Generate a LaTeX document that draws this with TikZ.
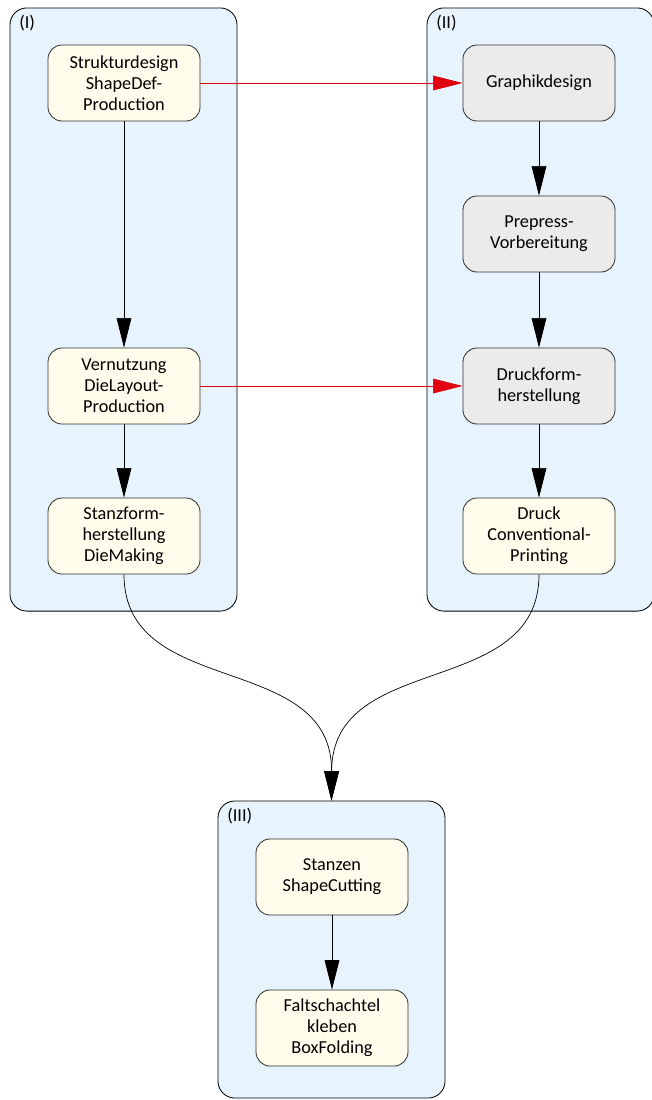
\documentclass[tikz,border=0pt]{standalone}
\usepackage{fontspec}
\setmainfont{Carlito}
\usetikzlibrary{arrows.meta}
\definecolor{lane}{HTML}{E8F4FD}
\definecolor{cream}{HTML}{FFFDEB}
\definecolor{stone}{HTML}{EBEBEB}
\definecolor{flowred}{HTML}{E0000F}
\tikzset{
  lanebox/.style={draw=black, line width=0.6pt, rectangle, rounded corners=12pt, fill=lane, minimum width=5.675cm},
  task/.style={draw=black!80, line width=0.6pt, rectangle, rounded corners=10pt, minimum width=3.8cm, minimum height=1.9cm, align=center, fill=cream, font=\fontsize{13}{15}\selectfont},
  prep/.style={task, fill=stone},
  tag/.style={anchor=north west, inner sep=0pt, font=\fontsize{13}{15}\selectfont},
  flow/.style={-{Triangle[length=21pt,width=10.5pt]}, line width=0.5pt, draw=black},
  handoff/.style={-{Triangle[length=21pt,width=10.5pt]}, line width=0.5pt, draw=flowred, color=flowred}
}

\begin{document}
\begin{tikzpicture}[x=0.025cm, y=-0.025cm]
  \useasboundingbox (0,0) rectangle (652,1100);
  % swim lanes
  \node[lanebox, minimum height=15.075cm] (laneA) at (123.5,309.5) {};
  \node[lanebox, minimum height=15.075cm] (laneB) at (540.5,309.5) {};
  \node[lanebox, minimum height=7.425cm] (laneC) at (331.5,949.5) {};
  \node[tag] (tagA) at (19,15) {(I)};
  \node[tag] (tagB) at (436,15) {(II)};
  \node[tag] (tagC) at (227,808) {(III)};

  % lane (I)
  \node[task] (shape) at (124,83) {Strukturdesign\\ShapeDef-\\Production};
  \node[task] (layout) at (124,386) {Vernutzung\\DieLayout-\\Production};
  \node[task] (die) at (124,536) {Stanzform-\\herstellung\\DieMaking};

  % lane (II)
  \node[prep] (graphic) at (539,83) {Graphikdesign};
  \node[prep] (prepress) at (539,234) {Prepress-\\Vorbereitung};
  \node[prep] (plate) at (539,386) {Druckform-\\herstellung};
  \node[task] (print) at (539,536) {Druck\\Conventional-\\Printing};

  % lane (III)
  \node[task] (cut) at (332,877) {Stanzen\\ShapeCutting};
  \node[task] (fold) at (332,1028) {Faltschachtel\\kleben\\BoxFolding};

  \draw[flow] (shape) -- (layout);
  \draw[flow] (layout) -- (die);
  \draw[flow] (graphic) -- (prepress);
  \draw[flow] (prepress) -- (plate);
  \draw[flow] (plate) -- (print);
  \draw[flow] (cut) -- (fold);

  \draw[handoff] (shape) -- (graphic);
  \draw[handoff] (layout) -- (plate);

  \draw[flow] (die.south) .. controls (124,700) and (332,650) .. (laneC.north);
  \draw[flow] (print.south) .. controls (539,700) and (332,650) .. (laneC.north);
\end{tikzpicture}
\end{document}
